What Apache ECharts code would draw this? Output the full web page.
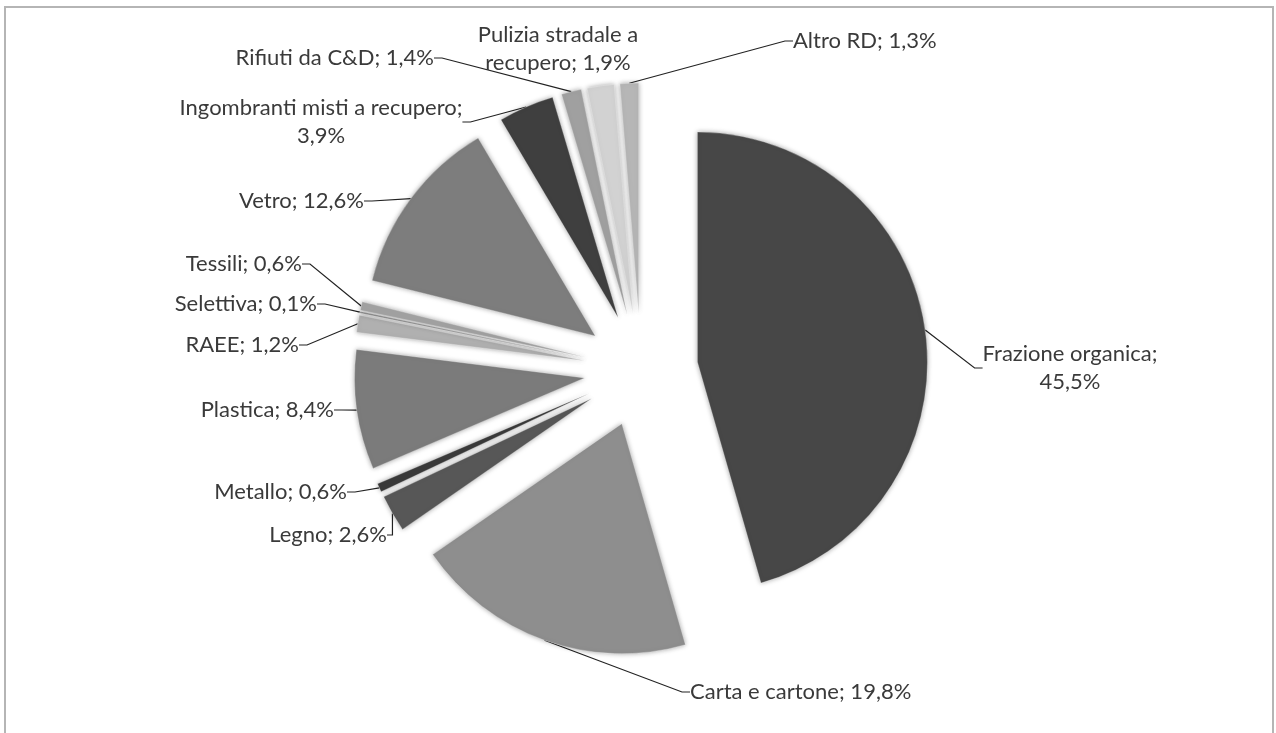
<!DOCTYPE html>
<html>
<head>
<meta charset="utf-8">
<script src="https://cdn.jsdelivr.net/npm/echarts@6/dist/echarts.min.js"></script>
<style>
  html, body { margin: 0; padding: 0; background: #ffffff; }
  #chart { width: 1276px; height: 733px; }
</style>
</head>
<body>
<div id="chart"></div>
<script>
// Composizione della raccolta differenziata (%)
const categories = [
  'Frazione organica',
  'Carta e cartone',
  'Legno',
  'Metallo',
  'Plastica',
  'RAEE',
  'Selettiva',
  'Tessili',
  'Vetro',
  'Ingombranti misti a recupero',
  'Rifiuti da C&D',
  'Pulizia stradale a recupero',
  'Altro RD'
];
const shares = [45.5, 19.8, 2.6, 0.6, 8.4, 1.2, 0.1, 0.6, 12.6, 3.9, 1.4, 1.9, 1.3];
const shades = [
  '#474747', '#8e8e8e', '#575757', '#3a3a3a', '#7b7b7b', '#b0b0b0', '#8a8a8a',
  '#a2a2a2', '#7d7d7d', '#3f3f3f', '#a0a0a0', '#d2d2d2', '#b6b6b6'
];

// where a label's text wraps onto a second line
const wraps = {
  'Frazione organica': '; ',
  'Ingombranti misti a recupero': '; ',
  'Pulizia stradale a recupero': ' a '
};

// labels that sit right over their slice and need no leader line
const noLeader = ['Pulizia stradale a recupero'];

// label placement: [x, y, align]
const labelSpots = {
  'Frazione organica': [1070, 368, 'center'],
  'Carta e cartone': [690, 692, 'left'],
  'Legno': [387, 535, 'right'],
  'Metallo': [347, 492, 'right'],
  'Plastica': [334, 410, 'right'],
  'RAEE': [299, 345, 'right'],
  'Selettiva': [317, 304, 'right'],
  'Tessili': [302, 264, 'right'],
  'Vetro': [364, 201, 'right'],
  'Ingombranti misti a recupero': [321, 122, 'center'],
  'Rifiuti da C&D': [434, 58, 'right'],
  'Pulizia stradale a recupero': [558, 49, 'center'],
  'Altro RD': [793, 41, 'left']
};

const PIE_CENTER = [641, 370];
const PIE_RADIUS = 230;
const EXPLODE = 57;

function labelText(name, value) {
  const pct = String(value).replace('.', ',') + '%';
  const w = wraps[name];
  if (w === '; ') return name + ';\n' + pct;
  let text = name + '; ' + pct;
  if (w) text = text.replace(w, w.trimEnd() + '\n');
  return text;
}

// Exploded pie: one pie layer per slice, each layer pushed outward
// along the bisector of its own slice; the other slices stay hidden.
const total = shares.reduce((a, b) => a + b, 0);
let before = 0;
const series = categories.map((name, k) => {
  const mid = (before + shares[k] / 2) / total * Math.PI * 2;
  before += shares[k];
  const center = [
    PIE_CENTER[0] + EXPLODE * Math.sin(mid),
    PIE_CENTER[1] - EXPLODE * Math.cos(mid)
  ];
  return {
    type: 'pie',
    name: name,
    center: center,
    radius: [0, PIE_RADIUS],
    startAngle: 90,
    clockwise: true,
    avoidLabelOverlap: false,
    emphasis: { disabled: true },
    label: {
      show: true,
      position: 'outside',
      color: '#3a3a3a',
      fontFamily: 'Lato, "Open Sans", sans-serif',
      fontSize: 22,
      lineHeight: 28,
      formatter: (p) => labelText(p.name, p.value)
    },
    labelLine: {
      show: noLeader.indexOf(name) < 0,
      length: 10,
      length2: 8,
      smooth: false,
      lineStyle: { color: '#222222', width: 1.2 }
    },
    labelLayout: (params) => {
      const s = labelSpots[categories[params.dataIndex]];
      return { x: s[0], y: s[1], align: s[2], verticalAlign: 'middle' };
    },
    data: categories.map((n, i) => i === k ? {
      name: n,
      value: shares[i],
      itemStyle: {
        color: shades[i],
        shadowBlur: 5,
        shadowColor: 'rgba(0,0,0,0.35)',
        borderColor: 'rgba(255,255,255,0.25)',
        borderWidth: 1
      }
    } : {
      name: n,
      value: shares[i],
      itemStyle: { color: 'rgba(0,0,0,0)', borderWidth: 0 },
      label: { show: false },
      labelLine: { show: false }
    })
  };
});

const chart = echarts.init(document.getElementById('chart'), null, { renderer: 'canvas' });

chart.setOption({
  animation: false,
  backgroundColor: '#ffffff',
  tooltip: { show: false },
  graphic: [{
    type: 'rect',
    silent: true,
    shape: { x: 5, y: 7, width: 1268, height: 800 },
    style: { fill: 'none', stroke: '#b5b5b5', lineWidth: 2 }
  }],
  series: series
});
</script>
</body>
</html>
